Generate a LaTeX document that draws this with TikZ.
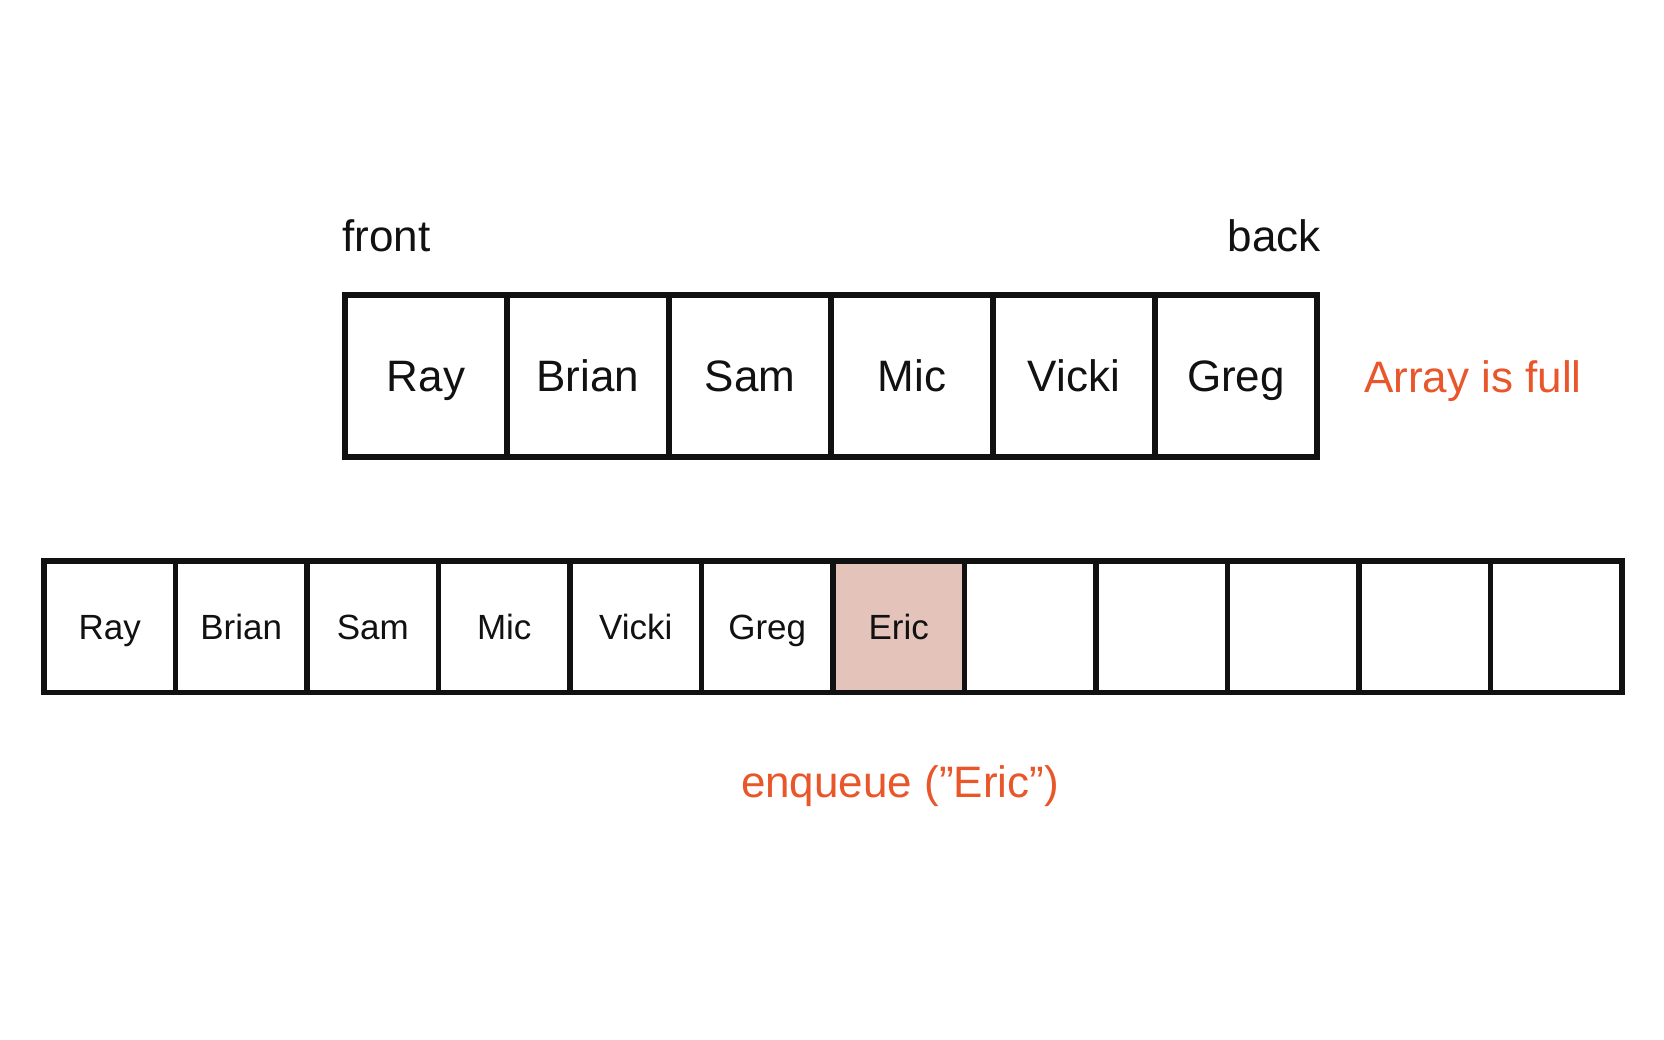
\documentclass[tikz,border=0pt]{standalone}
\usepackage{fontspec}
\setmainfont{Liberation Sans}
\definecolor{accent}{HTML}{E8562A}
\definecolor{ericfill}{HTML}{E4C3BB}
\definecolor{ink}{HTML}{111111}
\tikzset{
  bigcell/.style={draw=ink, line width=5.5pt, minimum width=162pt, minimum height=162pt, inner sep=0pt, text=ink, text height=31.5pt, text depth=0pt, font=\fontsize{44}{44}\selectfont},
  smallcell/.style={draw=ink, line width=5.5pt, minimum width=131.5pt, minimum height=131.5pt, inner sep=0pt, text=ink, text height=25pt, text depth=0pt, font=\fontsize{35}{35}\selectfont},
  plainlabel/.style={inner sep=0pt, text=ink, font=\fontsize{44}{44}\selectfont},
  notelabel/.style={inner sep=0pt, text=accent, font=\fontsize{44}{44}\selectfont}
}
\begin{document}
\begin{tikzpicture}[x=1pt,y=-1pt]
\useasboundingbox[fill=white] (0,0) rectangle (1664,1040);
% top array
\foreach \n/\t [count=\i] in {t1/Ray,t2/Brian,t3/Sam,t4/Mic,t5/Vicki,t6/Greg}{
  \node[bigcell] (\n) at ({345+162*(\i-0.5)},376) {\t};
}
\node[plainlabel, anchor=base west] (front) at (342,252) {front};
\node[plainlabel, anchor=base east] (back) at (1321,252) {back};
\node[notelabel, anchor=base west] (full) at (1364,392) {Array is full};
% bottom array
\foreach \n/\t [count=\i] in {b1/Ray,b2/Brian,b3/Sam,b4/Mic,b5/Vicki,b6/Greg}{
  \node[smallcell] (\n) at ({44+131.5*(\i-0.5)},626.5) {\t};
}
\node[smallcell, fill=ericfill] (b7) at ({44+131.5*6.5},626.5) {Eric};
\foreach \i in {8,...,12}{
  \node[smallcell] (b\i) at ({44+131.5*(\i-0.5)},626.5) {};
}
\node[notelabel, anchor=base] (enq) at (900,797) {enqueue (”Eric”)};
\end{tikzpicture}
\end{document}
